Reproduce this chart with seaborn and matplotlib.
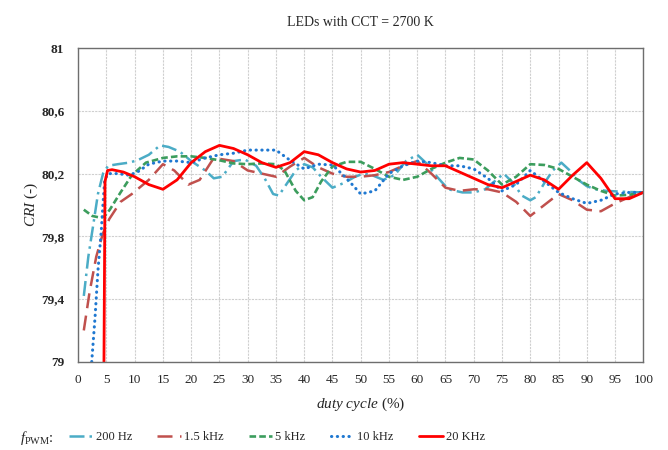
import numpy as np
import pandas as pd
import matplotlib
matplotlib.use("Agg")
import matplotlib.pyplot as plt
from matplotlib.ticker import FuncFormatter
import seaborn as sns


### values (CRI vs duty cycle, CCT = 2700 K)

x_200hz = [1.0, 1.8, 2.7, 3.5, 4.4, 5.3, 7.0, 9.0, 10.5, 12.5, 14.5, 16.0, 18.0, 20.0,
           22.5, 24.0, 25.5, 27.5, 29.5, 31.5, 33.0, 34.5, 35.5, 37.0, 38.5, 40.0, 41.5,
           43.0, 45.0, 47.0, 49.0, 50.5, 52.0, 54.0, 56.0, 58.0, 60.0, 61.5, 63.5, 65.5,
           68.0, 70.0, 72.0, 74.0, 75.3, 77.0, 78.5, 80.0, 81.0, 82.5, 84.0, 85.5, 87.0,
           88.5, 90.0, 91.5, 93.5, 96.0, 100.0]
cri_200hz = [79.42, 79.67, 79.88, 80.07, 80.20, 80.25, 80.26, 80.27, 80.285, 80.32, 80.38,
             80.37, 80.34, 80.28, 80.22, 80.17, 80.18, 80.28, 80.29, 80.25, 80.17, 80.07,
             80.06, 80.14, 80.22, 80.26, 80.24, 80.18, 80.11, 80.14, 80.18, 80.20, 80.19,
             80.16, 80.19, 80.28, 80.32, 80.27, 80.18, 80.10, 80.08, 80.08, 80.10, 80.16,
             80.20, 80.14, 80.06, 80.03, 80.05, 80.14, 80.22, 80.27, 80.22, 80.16, 80.12,
             80.10, 80.09, 80.085, 80.08]

x_1k5 = [1.0, 2.0, 3.2, 4.4, 5.5, 7.5, 9.5, 12.5, 15.0, 17.0, 19.5, 21.5, 24.0, 27.5,
         30.0, 32.5, 35.0, 37.5, 40.0, 42.5, 45.0, 47.5, 50.0, 52.5, 55.0, 57.5, 60.0,
         62.5, 65.0, 67.5, 70.0, 72.5, 75.0, 77.5, 80.0, 82.5, 85.0, 87.5, 90.0, 92.5,
         95.0, 97.5, 100.0]
cri_1k5 = [79.20, 79.44, 79.67, 79.82, 79.91, 80.02, 80.07, 80.16, 80.26, 80.22, 80.13,
           80.16, 80.30, 80.28, 80.22, 80.20, 80.18, 80.245, 80.30, 80.24, 80.20, 80.18,
           80.18, 80.19, 80.21, 80.25, 80.28, 80.20, 80.11, 80.09, 80.10, 80.10, 80.08,
           80.02, 79.93, 80.00, 80.07, 80.03, 79.97, 79.96, 80.01, 80.05, 80.08]

x_5k = [1.0, 2.5, 3.8, 4.6, 5.6, 7.5, 9.5, 12.0, 15.0, 17.5, 20.0, 22.5, 25.0, 27.5,
        30.0, 32.5, 35.0, 36.5, 38.5, 40.0, 41.5, 43.0, 45.0, 47.5, 50.0, 52.5, 55.0,
        57.5, 60.0, 62.5, 65.0, 67.5, 70.0, 72.5, 75.0, 77.5, 80.0, 82.5, 85.0, 87.5,
        90.0, 92.5, 95.0, 97.5, 100.0]
cri_5k = [79.97, 79.93, 79.92, 79.925, 79.97, 80.08, 80.19, 80.27, 80.30, 80.31, 80.31,
          80.30, 80.285, 80.265, 80.26, 80.265, 80.26, 80.22, 80.09, 80.03, 80.05, 80.15,
          80.245, 80.275, 80.275, 80.23, 80.18, 80.16, 80.18, 80.23, 80.27, 80.30, 80.29,
          80.22, 80.13, 80.18, 80.26, 80.255, 80.23, 80.18, 80.13, 80.09, 80.06, 80.065,
          80.08]

x_10k = [2.4, 3.0, 3.5, 4.1, 4.4, 4.7, 5.3, 7.0, 9.0, 10.5, 12.5, 15.0, 17.5, 20.0,
         22.5, 25.0, 27.5, 30.0, 32.5, 35.0, 37.5, 40.0, 42.5, 45.0, 47.5, 50.0, 52.5,
         55.0, 57.5, 60.0, 62.5, 65.0, 67.5, 70.0, 72.5, 75.0, 77.5, 80.0, 82.5, 85.0,
         87.5, 90.0, 92.5, 95.0, 97.5, 100.0]
cri_10k = [79.00, 79.29, 79.58, 79.84, 80.01, 80.16, 80.20, 80.20, 80.19, 80.21, 80.26,
           80.28, 80.28, 80.27, 80.30, 80.32, 80.33, 80.35, 80.35, 80.35, 80.285, 80.23,
           80.26, 80.255, 80.17, 80.07, 80.09, 80.20, 80.25, 80.28, 80.27, 80.25, 80.25,
           80.23, 80.17, 80.09, 80.13, 80.22, 80.15, 80.08, 80.04, 80.01, 80.03, 80.07,
           80.08, 80.08]

x_20k = [4.55, 4.75, 5.2, 6.0, 8.0, 10.0, 12.5, 15.0, 17.5, 20.0, 22.5, 25.0, 27.5, 30.0,
         32.5, 35.0, 37.5, 40.0, 42.5, 45.0, 47.5, 50.0, 52.5, 55.0, 57.5, 60.0, 62.5,
         65.0, 67.5, 70.0, 72.5, 75.0, 77.5, 80.0, 82.5, 85.0, 87.5, 90.0, 92.5, 95.0,
         97.5, 100.0]
cri_20k = [78.90, 80.15, 80.22, 80.225, 80.21, 80.18, 80.13, 80.10, 80.16, 80.27, 80.34,
           80.38, 80.36, 80.32, 80.27, 80.24, 80.27, 80.34, 80.32, 80.27, 80.23, 80.21,
           80.22, 80.26, 80.27, 80.26, 80.25, 80.25, 80.21, 80.17, 80.13, 80.11, 80.15,
           80.19, 80.16, 80.10, 80.19, 80.27, 80.17, 80.04, 80.04, 80.08]

labels = ["200 Hz", "1.5 kHz", "5 kHz", "10 kHz", "20 KHz"]
xs = [x_200hz, x_1k5, x_5k, x_10k, x_20k]
ys = [cri_200hz, cri_1k5, cri_5k, cri_10k, cri_20k]

colors = ["#4BACC6", "#C0504D", "#3C9D5D", "#1F78D1", "#FF0000"]
styles = [(0, (6, 2, 1, 2)), (0, (6, 3)), (0, (2.5, 1.2)), (0, (0.1, 1.8)), "-"]
widths = [1.8, 1.8, 1.9, 2.2, 2.0]


sns.set_theme(style="white")
plt.rcParams["font.family"] = ["Liberation Serif", "DejaVu Serif"]
plt.rcParams["mathtext.fontset"] = "custom"
plt.rcParams["mathtext.rm"] = "Liberation Serif"
plt.rcParams["mathtext.it"] = "Liberation Serif:italic"

fig = plt.figure(figsize=(6.68, 4.5), dpi=100)
ax = fig.add_axes([0.117, 0.196, 0.846, 0.697])

for x, y, lab, c, ls, lw in zip(xs, ys, labels, colors, styles, widths):
    df = pd.DataFrame({"duty": x, "cri": y})
    sns.lineplot(data=df, x="duty", y="cri", ax=ax, color=c, linestyle=ls,
                 linewidth=lw, label=lab, errorbar=None, sort=False,
                 dash_capstyle="round" if lab == "10 kHz" else "butt")

ax.set_xlim(0, 100)
ax.set_ylim(79, 81)
ax.set_xticks(np.arange(0, 101, 5))
ax.set_yticks([79, 79.4, 79.8, 80.2, 80.6, 81])
ax.yaxis.set_major_formatter(FuncFormatter(lambda v, p: f"{v:g}".replace(".", ",")))
for t in ax.get_yticklabels():
    t.set_fontweight("bold")

ax.grid(True, color="#cfcfcf", linewidth=0.8, linestyle=(0, (2, 1)))
for s in ax.spines.values():
    s.set_color("#6e6e6e")
    s.set_linewidth(1.0)
ax.tick_params(axis="both", direction="out", length=4, width=0.8, color="#6e6e6e",
               labelsize=9.5, pad=3)
ax.tick_params(axis="x", pad=5)
ax.tick_params(axis="y", length=7)

ax.set_xlabel(r"$duty\ cycle$ (%)", fontsize=11, labelpad=7)
ax.set_ylabel(r"$CRI$ (-)", fontsize=11, labelpad=1)
ax.set_title("LEDs with CCT = 2700 K", fontsize=10, pad=16)

ax.get_legend().remove()
handles, labs = ax.get_legend_handles_labels()
fig.legend(handles, labs, loc="center left", bbox_to_anchor=(0.103, 0.029), ncol=5,
           frameon=False, fontsize=9, handlelength=1.9, handletextpad=0.25,
           columnspacing=2.0, borderpad=0, borderaxespad=0)
fig.text(0.03, 0.027, r"$f_{\rm PWM}$:", fontsize=10.5, va="center", ha="left")

fig.savefig("out.png", dpi=100)
